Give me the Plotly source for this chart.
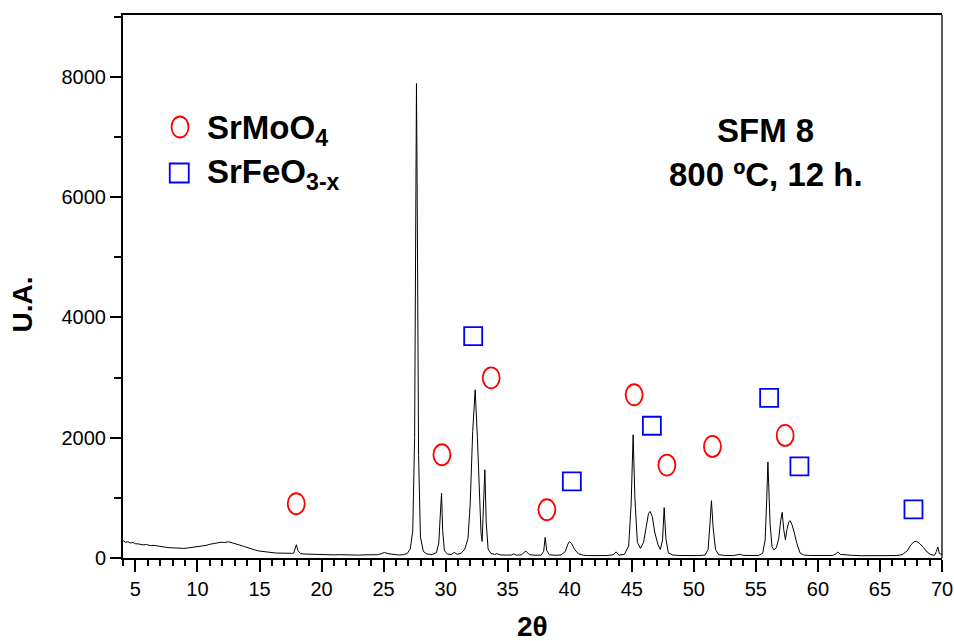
import plotly.graph_objects as go

# ---- XRD pattern (2theta in degrees, intensity in arbitrary units) ----
two_theta = [
    4.0, 4.2, 4.4, 4.6, 4.8, 5.0, 5.3, 5.6, 5.9, 6.2, 6.5, 6.8,
    7.1, 7.4, 7.7, 8.0, 8.3, 8.6, 8.9, 9.2, 9.5, 9.8, 10.1, 10.4,
    10.7, 11.0, 11.3, 11.6, 11.9, 12.2, 12.5, 12.8, 13.1, 13.4, 13.7, 14.0,
    14.3, 14.6, 14.9, 15.2, 15.5, 15.8, 16.1, 16.4, 16.7, 17.0, 17.3, 17.6,
    17.75, 17.9, 17.97, 18.1, 18.3, 18.6, 19.0, 19.5, 20.0, 20.5,
    21.0, 21.5, 22.0, 22.5, 23.0, 23.5, 24.0, 24.5, 24.8, 25.07, 25.35, 25.8, 26.2, 26.6,
    26.9, 27.15, 27.35, 27.5, 27.6, 27.65, 27.72, 27.82, 27.97, 28.2, 28.5,
    28.9, 29.25, 29.45, 29.56, 29.67, 29.76, 29.9, 30.15, 30.45,
    30.69, 30.95, 31.25, 31.55, 31.8, 31.98, 32.18, 32.38, 32.56, 32.72, 32.85, 32.94, 33.05, 33.16, 33.27, 33.42, 33.65,
    33.95, 34.13, 34.4, 34.9, 35.3, 35.47, 35.7, 36.1, 36.47, 36.75, 37.2, 37.7, 37.9, 38.02, 38.14, 38.35, 38.8, 39.3, 39.65, 39.85, 39.98, 40.15, 40.4, 40.7, 41.1,
    41.5, 42.2, 43.0, 43.5, 43.74, 43.95, 44.4, 44.75, 44.95, 45.11, 45.25, 45.45, 45.7, 45.95, 46.2, 46.35, 46.48, 46.65, 46.85, 47.1, 47.3, 47.48, 47.61, 47.75, 47.95, 48.3,
    48.8, 49.5, 50.3, 50.9, 51.15, 51.3, 51.42, 51.55, 51.75, 52.0, 52.5, 53.2, 53.55, 53.73, 53.95, 54.5,
    55.2, 55.55, 55.75, 55.88, 55.97, 56.03, 56.07, 56.15, 56.3, 56.45, 56.65, 56.85, 57.0, 57.12, 57.25, 57.38, 57.5, 57.65, 57.76, 57.9, 58.1, 58.3, 58.57, 58.85, 59.3,
    59.8, 60.5, 61.2, 61.45, 61.61, 61.8, 62.2, 62.7, 63.5, 64.5, 65.5, 66.3, 66.8, 67.2, 67.5, 67.75, 67.95, 68.2, 68.5, 68.8, 69.1, 69.4, 69.55, 69.66, 69.8, 70.0,
]
intensity = [
    290, 262, 270, 250, 258, 238, 232, 218, 224, 205, 210, 196,
    188, 180, 172, 168, 162, 170, 160, 166, 175, 172, 188, 196,
    210, 228, 240, 252, 262, 258, 270, 252, 238, 215, 195, 172,
    150, 135, 118, 108, 100, 92, 88, 82, 78, 74, 72, 78,
    80, 170, 220, 120, 75, 66, 62, 58, 56, 55,
    52, 55, 50, 53, 48, 52, 50, 55, 70, 92, 72, 55, 50, 55,
    75, 150, 450, 2000, 5800, 7886, 5600, 1700, 350, 110, 65,
    58, 85, 250, 680, 1075, 460, 120, 65, 58,
    92, 62, 80, 150, 320, 900, 2100, 2796, 2000, 950, 420, 275, 800, 1467, 600, 150, 75,
    60, 72, 52, 48, 50, 68, 48, 52, 115, 55, 45, 48, 110, 342, 130, 55, 45, 50, 110, 230, 271, 240, 140, 70, 45,
    40, 38, 40, 55, 102, 48, 60, 200, 900, 2048, 1000, 260, 160, 260, 560, 740, 774, 690, 430, 230, 140, 300, 836, 320, 85, 50,
    42, 38, 40, 48, 140, 560, 952, 520, 140, 55, 42, 40, 48, 62, 44, 40,
    40, 80, 300, 1000, 1595, 1250, 940, 560, 190, 135, 170, 330, 620, 757, 470, 304, 470, 600, 620, 560, 420, 244, 80, 50, 42,
    40, 38, 42, 70, 100, 60, 48, 45, 38, 36, 38, 40, 55, 120, 220, 270, 276, 240, 175, 100, 55, 45, 110, 183, 70, 60,
]

# ---- phase identification marks ----
srmoo4_theta = [17.96, 29.70, 33.67, 38.16, 45.19, 47.83, 51.50, 57.36]
srmoo4_level = [902, 1716, 2995, 802, 2713, 1545, 1854, 2037]
srfeo3_theta = [32.22, 40.17, 46.62, 56.07, 58.51, 67.70]
srfeo3_level = [3688, 1272, 2198, 2663, 1522, 807]

x_ticks = [5, 10, 15, 20, 25, 30, 35, 40, 45, 50, 55, 60, 65, 70]
y_ticks = [0, 2000, 4000, 6000, 8000]

FONT = "Arial, 'Liberation Sans', sans-serif"
RED = "#ff0000"
BLUE = "#0000ff"

fig = go.Figure()

fig.add_trace(go.Scatter(
    x=two_theta, y=intensity, mode="lines",
    line=dict(color="black", width=1),
    showlegend=False, hoverinfo="skip",
))

fig.add_trace(go.Scatter(
    x=srfeo3_theta, y=srfeo3_level, mode="markers",
    marker=dict(symbol="square-open", size=18, color=BLUE, line=dict(color=BLUE, width=1.8)),
    showlegend=False,
))

shapes = []
# SrMoO4 reflections drawn as upright ellipses of fixed pixel size
for t, v in zip(srmoo4_theta, srmoo4_level):
    shapes.append(dict(
        type="circle", xref="x", yref="y",
        xsizemode="pixel", ysizemode="pixel",
        xanchor=t, yanchor=v,
        x0=-8.5, x1=8.5, y0=-10.5, y1=10.5,
        line=dict(color=RED, width=1.8),
    ))

# legend symbols
shapes.append(dict(
    type="circle", xref="paper", yref="paper",
    xsizemode="pixel", ysizemode="pixel",
    xanchor=0.0696, yanchor=0.7937,
    x0=-8.5, x1=8.5, y0=-10.5, y1=10.5,
    line=dict(color=RED, width=1.8),
))
shapes.append(dict(
    type="rect", xref="paper", yref="paper",
    xsizemode="pixel", ysizemode="pixel",
    xanchor=0.0687, yanchor=0.709,
    x0=-9.5, x1=9.5, y0=-9.5, y1=9.5,
    line=dict(color=BLUE, width=1.8),
))
# right frame edge (thinner than the axes)
shapes.append(dict(
    type="line", xref="paper", yref="paper",
    x0=1, x1=1, y0=0, y1=1,
    line=dict(color="black", width=1.3),
))

annotations = [
    dict(text="<b>SrMoO<sub>4</sub></b>", xref="paper", yref="paper",
         x=0.1000, y=0.7880, xanchor="left", yanchor="middle", showarrow=False,
         font=dict(family=FONT, size=33, color="black")),
    dict(text="<b>SrFeO<sub>3-x</sub></b>", xref="paper", yref="paper",
         x=0.1000, y=0.7070, xanchor="left", yanchor="middle", showarrow=False,
         font=dict(family=FONT, size=33, color="black")),
    dict(text="<b>SFM 8</b>", xref="paper", yref="paper",
         x=0.7845, y=0.7880, xanchor="center", yanchor="middle", showarrow=False,
         font=dict(family=FONT, size=33, color="black")),
    dict(text="<b>800 ºC, 12 h.</b>", xref="paper", yref="paper",
         x=0.7845, y=0.7060, xanchor="center", yanchor="middle", showarrow=False,
         font=dict(family=FONT, size=33, color="black")),
    dict(text="<b>U.A.</b>", xref="paper", yref="paper",
         x=-0.1227, y=0.466, xanchor="center", yanchor="middle", showarrow=False,
         textangle=-90, font=dict(family=FONT, size=28, color="black")),
    dict(text="<b>2θ</b>", xref="paper", yref="paper",
         x=0.4994, y=-0.1255, xanchor="center", yanchor="middle", showarrow=False,
         borderpad=0, font=dict(family=FONT, size=28, color="black")),
]

fig.update_layout(
    width=954, height=641,
    margin=dict(l=123, r=12, t=15, b=83, autoexpand=False),
    paper_bgcolor="white", plot_bgcolor="white",
    font=dict(family=FONT, size=20, color="black"),
    shapes=shapes,
    annotations=annotations,
    showlegend=False,
)

fig.update_xaxes(
    range=[4, 70], tickmode="array", tickvals=x_ticks,
    ticks="outside", ticklen=12, tickwidth=2, tickcolor="black",
    minor=dict(dtick=1, tick0=4, ticks="outside", ticklen=6, tickwidth=2, tickcolor="black"),
    showline=True, linecolor="black", linewidth=2, mirror=True,
    showgrid=False, zeroline=False, automargin=False,
    tickfont=dict(family=FONT, size=20, color="black"),
)
fig.update_yaxes(
    range=[0, 9025], tickmode="array", tickvals=y_ticks,
    ticks="outside", ticklen=11, tickwidth=2, tickcolor="black",
    minor=dict(dtick=1000, tick0=0, ticks="outside", ticklen=7, tickwidth=2, tickcolor="black"),
    showline=True, linecolor="black", linewidth=2,
    showgrid=False, zeroline=False, automargin=False,
    tickfont=dict(family=FONT, size=20, color="black"),
)

fig.write_html("out.html")
